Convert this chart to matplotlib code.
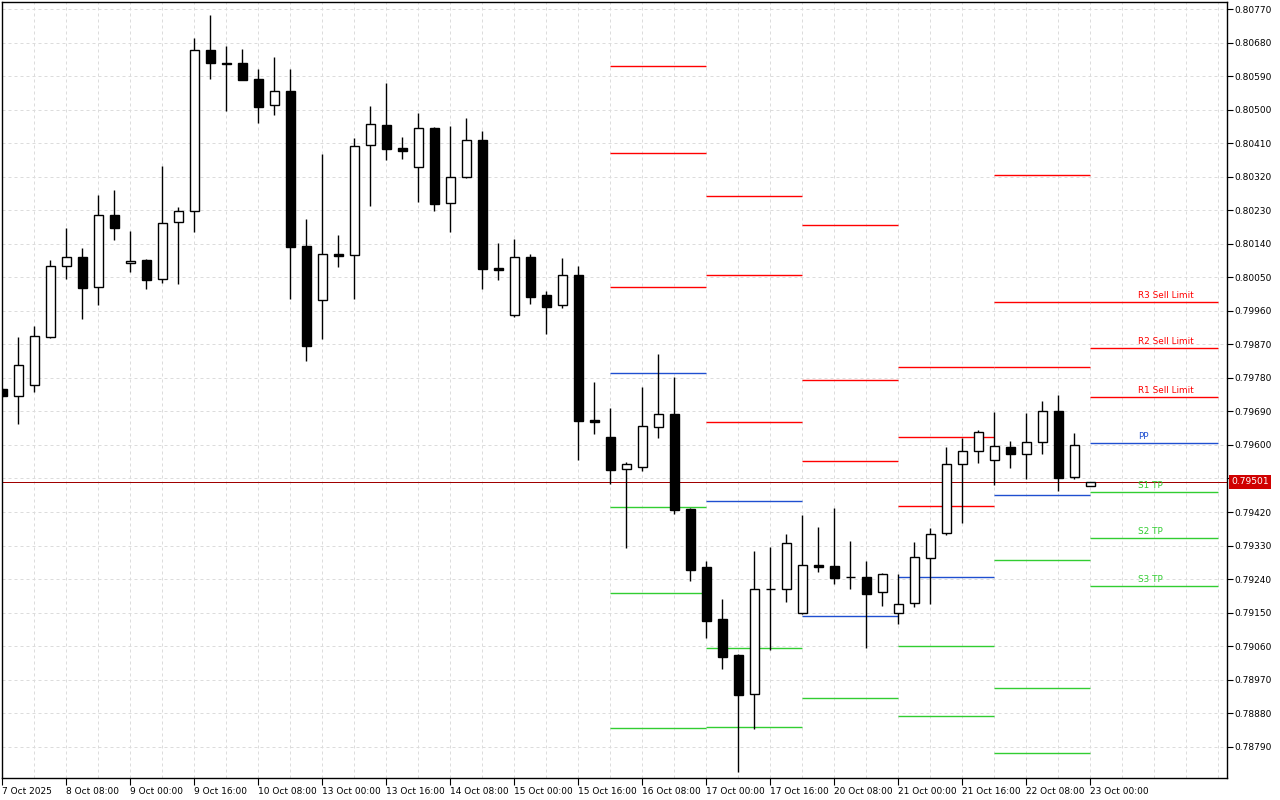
import matplotlib
matplotlib.use("Agg")
import matplotlib.pyplot as plt
import matplotlib.transforms as mtransforms

# ---------------- data ----------------
opens = [0.79750, 0.79732, 0.79760, 0.79889, 0.80080, 0.80104, 0.80023, 0.80217, 0.80088, 0.80097,
         0.80045, 0.80198, 0.80228, 0.80660, 0.80625, 0.80626, 0.80583, 0.80512, 0.80551, 0.80134,
         0.79989, 0.80113, 0.80109, 0.80405, 0.80458, 0.80398, 0.80346, 0.80451, 0.80249, 0.80319,
         0.80419, 0.80075, 0.79948, 0.80105, 0.80003, 0.79975, 0.80057, 0.79666, 0.79621, 0.79535,
         0.79542, 0.79649, 0.79683, 0.79428, 0.79272, 0.79133, 0.79036, 0.78931, 0.79213, 0.79212,
         0.79148, 0.79277, 0.79275, 0.79245, 0.79246, 0.79204, 0.79148, 0.79175, 0.79296, 0.79363,
         0.79548, 0.79583, 0.79559, 0.79595, 0.79575, 0.79607, 0.79690, 0.79513, 0.79489]
highs = [0.79753, 0.79891, 0.79920, 0.80097, 0.80183, 0.80129, 0.80271, 0.80285, 0.80175, 0.80099,
         0.80349, 0.80239, 0.80693, 0.80755, 0.80671, 0.80663, 0.80610, 0.80642, 0.80610, 0.80207,
         0.80381, 0.80164, 0.80424, 0.80510, 0.80572, 0.80427, 0.80492, 0.80454, 0.80457, 0.80478,
         0.80443, 0.80142, 0.80153, 0.80113, 0.80014, 0.80102, 0.80081, 0.79769, 0.79699, 0.79554,
         0.79756, 0.79844, 0.79783, 0.79430, 0.79288, 0.79186, 0.79040, 0.79315, 0.79326, 0.79361,
         0.79413, 0.79380, 0.79431, 0.79342, 0.79288, 0.79256, 0.79254, 0.79339, 0.79377, 0.79595,
         0.79620, 0.79640, 0.79689, 0.79611, 0.79686, 0.79718, 0.79734, 0.79632, 0.79501]
lows = [0.79729, 0.79656, 0.79743, 0.79886, 0.80045, 0.79937, 0.79977, 0.80151, 0.80065, 0.80020,
        0.80036, 0.80033, 0.80173, 0.80584, 0.80498, 0.80579, 0.80465, 0.80487, 0.79993, 0.79826,
        0.79885, 0.80079, 0.79993, 0.80243, 0.80366, 0.80369, 0.80253, 0.80229, 0.80173, 0.80316,
        0.80020, 0.80044, 0.79945, 0.79979, 0.79899, 0.79969, 0.79561, 0.79630, 0.79496, 0.79324,
        0.79531, 0.79620, 0.79414, 0.79236, 0.79082, 0.78999, 0.78723, 0.78838, 0.79050, 0.79177,
        0.79145, 0.79258, 0.79228, 0.79214, 0.79056, 0.79168, 0.79120, 0.79166, 0.79174, 0.79358,
        0.79391, 0.79552, 0.79493, 0.79539, 0.79509, 0.79577, 0.79477, 0.79508, 0.79489]
closes = [0.79732, 0.79814, 0.79892, 0.80080, 0.80104, 0.80022, 0.80217, 0.80184, 0.80093, 0.80044,
          0.80195, 0.80228, 0.80660, 0.80625, 0.80622, 0.80580, 0.80508, 0.80550, 0.80133, 0.79867,
          0.80112, 0.80107, 0.80402, 0.80461, 0.80396, 0.80389, 0.80450, 0.80248, 0.80319, 0.80418,
          0.80073, 0.80071, 0.80104, 0.79998, 0.79971, 0.80056, 0.79664, 0.79662, 0.79534, 0.79549,
          0.79650, 0.79682, 0.79426, 0.79265, 0.79127, 0.79031, 0.78929, 0.79213, 0.79212, 0.79336,
          0.79277, 0.79272, 0.79244, 0.79245, 0.79201, 0.79253, 0.79173, 0.79298, 0.79360, 0.79548,
          0.79583, 0.79634, 0.79597, 0.79575, 0.79607, 0.79690, 0.79512, 0.79599, 0.79501]

# daily pivot levels (one value per day, each day = 6 H4 bars; last day drawn into the future)
pivot_start = [38, 44, 50, 56, 62, 68]
pivot_end = [44, 50, 56, 62, 68, 76]
R3 = [0.80618, 0.80269, 0.80191, 0.79809, 0.80325, 0.79983]
R2 = [0.80384, 0.80057, 0.79774, 0.79621, 0.79984, 0.79860]
R1 = [0.80024, 0.79661, 0.79556, 0.79435, 0.79809, 0.79728]
PP = [0.79793, 0.79449, 0.79140, 0.79245, 0.79465, 0.79605]
S1 = [0.79433, 0.79054, 0.78920, 0.79060, 0.79290, 0.79473]
S2 = [0.79203, 0.78842, 0.78504, 0.78871, 0.78947, 0.79349]
S3 = [0.78840, 0.78448, 0.78286, 0.78684, 0.78774, 0.79221]
level_names = ["R3 Sell Limit", "R2 Sell Limit", "R1 Sell Limit", "PP", "S1 TP", "S2 TP", "S3 TP"]

current_price = 0.79501

xtick_bars = [0, 4, 8, 12, 16, 20, 24, 28, 32, 36, 40, 44, 48, 52, 56, 60, 64, 68]
xtick_labels = ["7 Oct 2025", "8 Oct 08:00", "9 Oct 00:00", "9 Oct 16:00", "10 Oct 08:00",
                "13 Oct 00:00", "13 Oct 16:00", "14 Oct 08:00", "15 Oct 00:00", "15 Oct 16:00",
                "16 Oct 08:00", "17 Oct 00:00", "17 Oct 16:00", "20 Oct 08:00", "21 Oct 00:00",
                "21 Oct 16:00", "22 Oct 08:00", "23 Oct 00:00"]
ytick_values = [0.80770, 0.80680, 0.80590, 0.80500, 0.80410, 0.80320, 0.80230, 0.80140, 0.80050,
                0.79960, 0.79870, 0.79780, 0.79690, 0.79600, 0.79510, 0.79420, 0.79330, 0.79240,
                0.79150, 0.79060, 0.78970, 0.78880, 0.78790]

# ---------------- style ----------------
RED = "#ff0000"
BLUE = "#1f4fd0"
GREEN = "#32cd32"
GRID = "#dcdcdc"
PX = 0.72  # one pixel in points at dpi 100

fig = plt.figure(figsize=(12.8, 8.0), dpi=100)
ax = fig.add_axes([2 / 1280, 22 / 800, 1225 / 1280, 776 / 800])
ax.set_xlim(-0.02, 76.54)
ax.set_ylim(0.787057, 0.807896)

# grid
for gx in range(2, 77, 2):
    ax.axvline(gx, color=GRID, lw=PX, ls=(0, (3, 3)), zorder=0)
for gy in ytick_values:
    ax.axhline(gy, color=GRID, lw=PX, ls=(0, (3, 3)), zorder=0)

# pivot lines
level_sets = [R3, R2, R1, PP, S1, S2, S3]
level_colors = [RED, RED, RED, BLUE, GREEN, GREEN, GREEN]
for vals, col in zip(level_sets, level_colors):
    ax.hlines(vals, pivot_start, pivot_end, colors=col, lw=1.0, zorder=1)

# labels of the current day's levels
for vals, col, name in zip(level_sets, level_colors, level_names):
    ax.annotate(name, xy=(71, vals[-1]), xytext=(0, 1.5), textcoords="offset points",
                color=col, fontsize=6.4, ha="left", va="bottom", zorder=4)

# current price line
ax.axhline(current_price, color="#a00000", lw=PX, zorder=1.5)

# candles
xs = list(range(len(opens)))
ax.vlines(xs, lows, highs, colors="black", lw=1.0, zorder=2)
bottoms = [min(o, c) for o, c in zip(opens, closes)]
heights = [abs(c - o) for o, c in zip(opens, closes)]
faces = ["white" if c > o else "black" for o, c in zip(opens, closes)]
ax.bar(xs, heights, bottom=bottoms, width=0.58, color=faces, edgecolor="black",
       linewidth=1.0, zorder=3)

# axes styling
for sp in ax.spines.values():
    sp.set_color("black")
    sp.set_linewidth(1.0)
ax.yaxis.tick_right()
ax.set_yticks(ytick_values)
# the 0.79510 label sits under the current-price tag
ax.set_yticklabels(["" if abs(v - 0.79510) < 1e-7 else f"{v:.5f}" for v in ytick_values])
ax.tick_params(axis="y", direction="out", length=4, width=0.8, labelsize=6.5, pad=1.5)
ax.set_xticks(xtick_bars)
ax.set_xticklabels(xtick_labels, ha="left")
ax.tick_params(axis="x", direction="out", length=5, width=0.8, labelsize=6.5, pad=1.5)

# current price tag on the price scale
trans = mtransforms.blended_transform_factory(ax.transAxes, ax.transData)
ax.annotate("0.79501", xy=(1.0, current_price), xycoords=trans, xytext=(3, 0),
            textcoords="offset points", color="white", fontsize=6.6,
            ha="left", va="center", annotation_clip=False, zorder=20,
            bbox=dict(boxstyle="square,pad=0.28", fc="#d00000", ec="none"))

fig.savefig("out.png", dpi=100)
